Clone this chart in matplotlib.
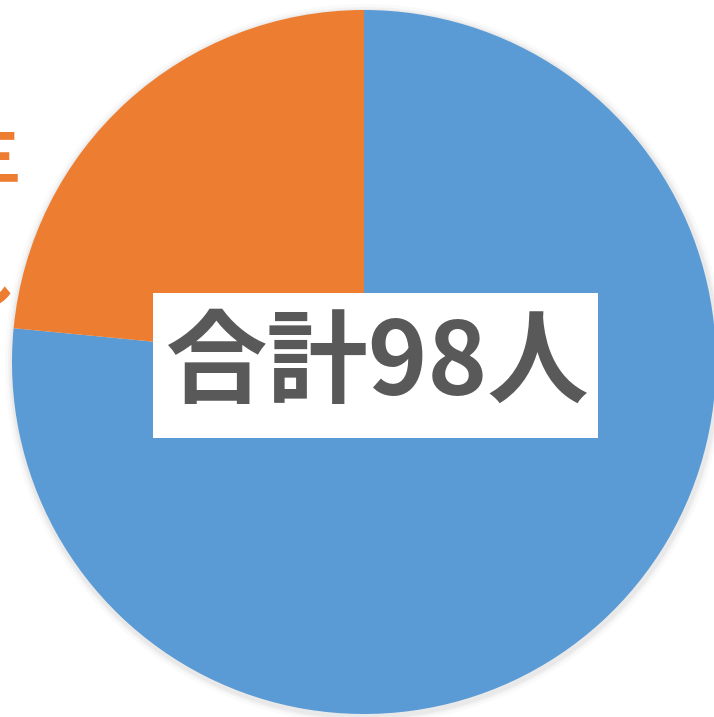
import matplotlib.pyplot as plt
from matplotlib.patches import Circle, Rectangle

plt.rcParams['font.family'] = ['Noto Sans CJK JP', 'DejaVu Sans']

# データ
labels = ['その他', '女性']
values = [75, 23]
colors = ['#5B9BD5', '#ED7D31']
total_text = '合計98人'

W, H = 714, 717
fig = plt.figure(figsize=(W / 100, H / 100), dpi=100)
ax = fig.add_axes([0, 0, 1, 1])

cx, cy, r = 364, 717 - 362, 352

# 影っぽいぼかし
for k, a in [(8, 0.04), (5, 0.06), (3, 0.08)]:
    ax.add_patch(Circle((cx + 1, cy - 2), r + k, color='gray', alpha=a, lw=0, zorder=0))

ax.pie(values, colors=colors, startangle=90, counterclock=False,
       center=(cx, cy), radius=r, frame=True,
       wedgeprops=dict(linewidth=0))
ax.set_xlim(0, W)
ax.set_ylim(0, H)
ax.set_aspect('equal')
ax.axis('off')

# 左側の切れたラベル（元画像でも端で切れている）
ax.text(22, 717 - 160, '三', color='#ED7D31', fontsize=46, fontweight='bold',
        ha='right', va='center')
ax.text(16, 717 - 285, 'し', color='#ED7D31', fontsize=46, fontweight='bold',
        ha='right', va='center')

# 中央のテキストボックス
ax.add_patch(Rectangle((153, 717 - 438), 445, 145, facecolor='white', lw=0, zorder=5))
ax.text(378, 717 - 366, total_text, color='#595959', fontsize=73, fontweight='bold',
        ha='center', va='center', zorder=6)

fig.savefig('out.png', dpi=100)
